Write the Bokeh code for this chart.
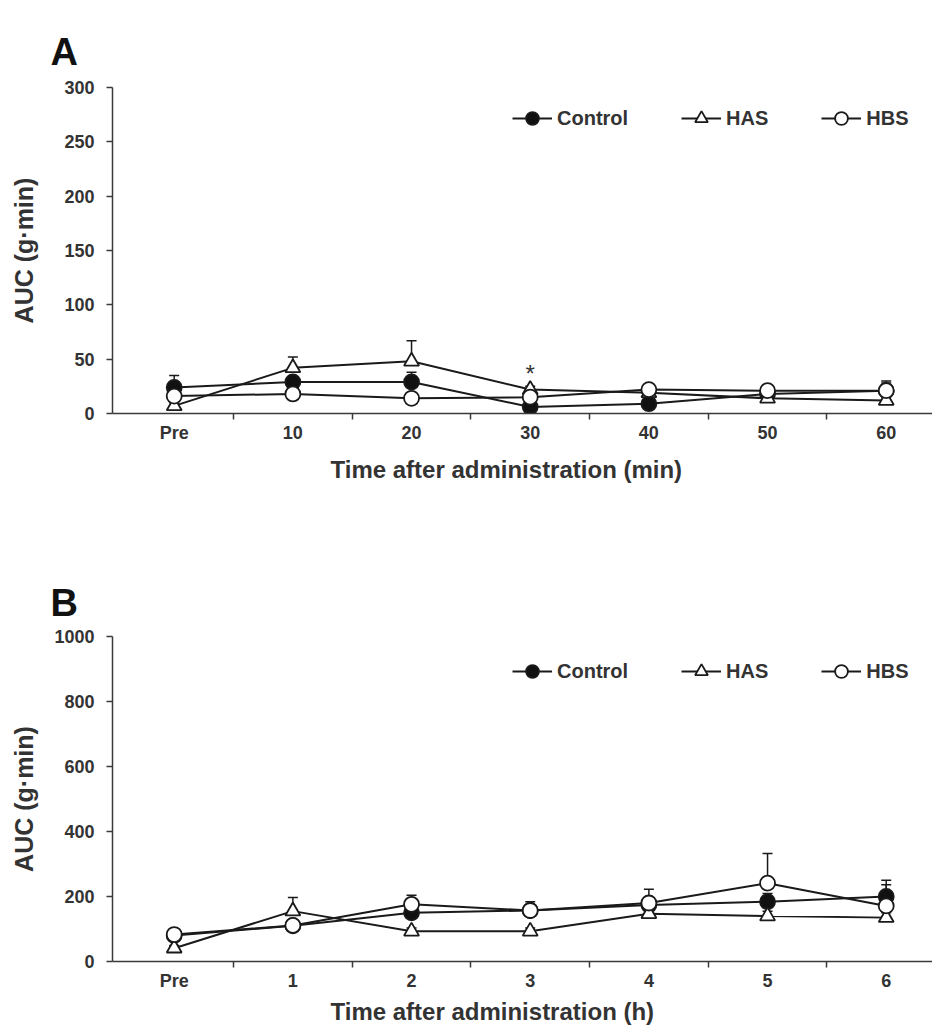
from bokeh.plotting import figure
from bokeh.models import (FixedTicker, Legend, LegendItem, Whisker, TeeHead,
                          ColumnDataSource, Title)
from bokeh.layouts import column
from bokeh.embed import file_html
from bokeh.resources import INLINE
from bokeh.core.properties import value

# ---------------- data ----------------
cats_a = ["Pre", "10", "20", "30", "40", "50", "60"]
yticks_a = [0, 50, 100, 150, 200, 250, 300]
ctrl_a = [24, 29, 29, 6, 9, 18, 21]
ctrl_a_err = [11, 4, 9, 2, 2, 3, 7]
has_a = [7, 42, 48, 22, 19, 14, 12]
has_a_err = [3, 10, 19, 3, 3, 3, 3]
hbs_a = [16, 18, 14, 15, 22, 21, 21]
hbs_a_err = [3, 3, 3, 3, 3, 3, 9]
star_a_x = [3]
star_a_y = [37]

cats_b = ["Pre", "1", "2", "3", "4", "5", "6"]
yticks_b = [0, 200, 400, 600, 800, 1000]
ctrl_b = [80, 110, 150, 157, 174, 184, 200]
ctrl_b_err = [10, 10, 15, 15, 20, 25, 50]
has_b = [41, 155, 93, 93, 147, 140, 135]
has_b_err = [8, 42, 10, 10, 15, 15, 15]
hbs_b = [83, 111, 176, 157, 180, 241, 171]
hbs_b_err = [10, 10, 28, 27, 42, 91, 65]

series_names = ["Control", "HAS", "HBS"]

FONT = "Liberation Sans"
TXT = "#333333"
AX = "#3a3a3a"
LN = "#1a1a1a"

FRAME_W = 820


def panel(letter, cats, yticks, series, errs, xlabel, height, top, bottom,
          legend_y, ystandoff, xstandoff, letter_standoff, star=None):
    n = len(cats)
    xs = list(range(n))
    x0, x1 = -0.52, n - 1 + 0.39
    p = figure(width=112 + FRAME_W, height=height, x_range=(x0, x1),
               y_range=(yticks[0], yticks[-1]), output_backend="svg",
               toolbar_location=None, min_border_left=112, min_border_right=0,
               min_border_top=top, min_border_bottom=bottom)
    p.outline_line_color = None
    p.xgrid.grid_line_color = None
    p.ygrid.grid_line_color = None

    # panel letter as a left-aligned title
    p.title.text = letter
    p.title.align = "left"
    p.title.offset = -62
    p.title.standoff = letter_standoff
    p.title.text_font = FONT
    p.title.text_font_style = "bold"
    p.title.text_font_size = "38px"
    p.title.text_color = "#111111"

    # x axis
    xa = p.xaxis[0]
    xa.ticker = FixedTicker(ticks=xs, minor_ticks=[i + 0.5 for i in xs[:-1]])
    xa.major_label_overrides = {i: c for i, c in enumerate(cats)}
    xa.major_tick_out = 0
    xa.major_tick_in = 0
    xa.minor_tick_out = 6
    xa.minor_tick_in = 0
    xa.minor_tick_line_color = AX
    xa.minor_tick_line_width = 1.5
    xa.axis_line_color = AX
    xa.axis_line_width = 1.5
    xa.major_label_standoff = 3

    ya = p.yaxis[0]
    ya.ticker = FixedTicker(ticks=yticks)
    ya.major_tick_out = 6
    ya.major_tick_in = 0
    ya.minor_tick_out = 0
    ya.minor_tick_in = 0
    ya.major_tick_line_color = AX
    ya.major_tick_line_width = 1.5
    ya.axis_line_color = AX
    ya.axis_line_width = 1.5
    ya.major_label_standoff = 12
    ya.axis_label = "AUC (g·min)"
    ya.axis_label_standoff = ystandoff

    for ax in (xa, ya):
        ax.major_label_text_font = FONT
        ax.major_label_text_font_style = "bold"
        ax.major_label_text_font_size = "18px"
        ax.major_label_text_color = TXT
        ax.axis_label_text_font = FONT
        ax.axis_label_text_font_style = "bold"
        ax.axis_label_text_font_size = "25px"
        ax.axis_label_text_color = TXT

    # x-axis title (left-aligned so that it sits where the original does)
    xt = Title(text=xlabel, align="left", offset=218, standoff=xstandoff,
               text_font=FONT, text_font_style="bold", text_font_size="24px",
               text_color=TXT)
    p.add_layout(xt, "below")

    fills = ["#111111", "white", "white"]
    markers = ["circle", "triangle", "circle"]
    line_rs, mark_rs = [], []
    for vals in series:
        line_rs.append(p.line(xs, vals, line_color=LN, line_width=2))
    for vals, err in zip(series, errs):
        src = ColumnDataSource(dict(x=xs, lower=vals,
                                    upper=[v + e for v, e in zip(vals, err)]))
        w = Whisker(source=src, base="x", lower="lower", upper="upper",
                    lower_head=None,
                    upper_head=TeeHead(size=10, line_color=LN, line_width=1.5),
                    line_color=LN, line_width=1.5, level="underlay")
        p.add_layout(w)
    for vals, f, m in zip(series, fills, markers):
        mark_rs.append(p.scatter(xs, vals, marker=m, size=15, fill_color=f,
                                 line_color=LN, line_width=1.8))

    items = [LegendItem(label=nm, renderers=[l, s])
             for nm, l, s in zip(series_names, line_rs, mark_rs)]
    leg = Legend(items=items, orientation="horizontal", location=(400, legend_y),
                 glyph_width=40, glyph_height=32, label_standoff=5, spacing=53,
                 padding=0, margin=0, border_line_color=None,
                 background_fill_alpha=0, label_text_font=FONT,
                 label_text_font_style="bold", label_text_font_size="20px",
                 label_text_color=TXT)
    p.add_layout(leg)

    if star is not None:
        p.text(x=star[0], y=star[1], text=["*"] * len(star[0]),
               text_align="center", text_baseline="middle",
               text_font=value(FONT), text_font_size="24px", text_color=TXT)
    return p


pa = panel("A", cats_a, yticks_a, [ctrl_a, has_a, hbs_a],
           [ctrl_a_err, has_a_err, hbs_a_err],
           "Time after administration (min)", 500, 87, 87, 279, 23, 17, 30,
           star=(star_a_x, star_a_y))
pb = panel("B", cats_b, yticks_b, [ctrl_b, has_b, hbs_b],
           [ctrl_b_err, has_b_err, hbs_b_err],
           "Time after administration (h)", 527, 136, 65, 274, 13, 5, 25)

layout = column(pa, pb, spacing=0)
open("out.html", "w").write(file_html(layout, INLINE))
